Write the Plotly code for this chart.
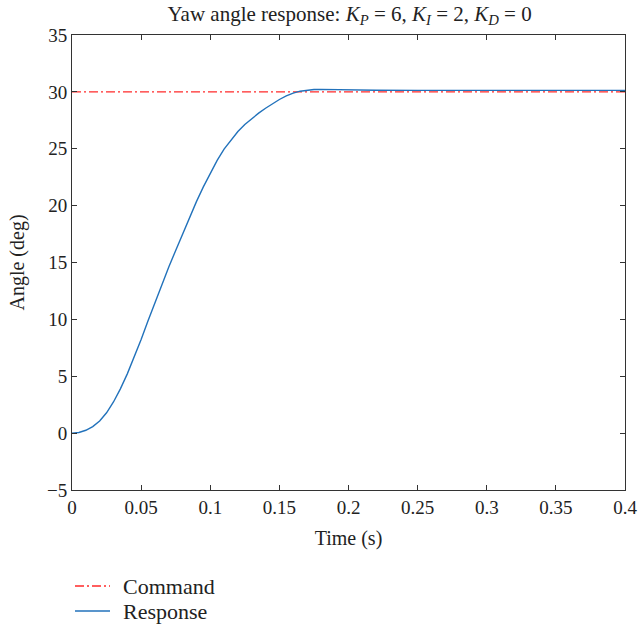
import plotly.graph_objects as go

t = [0, 0.005, 0.01, 0.015, 0.02, 0.025, 0.03, 0.035, 0.04, 0.045, 0.05, 0.055, 0.06,
     0.065, 0.07, 0.075, 0.08, 0.085, 0.09, 0.095, 0.1, 0.105, 0.11, 0.115, 0.12, 0.125,
     0.13, 0.135, 0.14, 0.145, 0.15, 0.155, 0.16, 0.165, 0.17, 0.175, 0.18, 0.185, 0.19,
     0.2, 0.22, 0.25, 0.3, 0.35, 0.4]
response = [0, 0.06, 0.25, 0.57, 1.07, 1.79, 2.74, 3.89, 5.21, 6.67, 8.24, 9.87, 11.50,
            13.08, 14.60, 16.06, 17.50, 18.98, 20.35, 21.65, 22.87, 23.98, 24.97, 25.80, 26.52, 27.14,
            27.67, 28.13, 28.56, 28.97, 29.33, 29.64, 29.89, 30.06, 30.16, 30.21, 30.22, 30.21, 30.19,
            30.16, 30.14, 30.13, 30.13, 30.13, 30.13]
cmd_t = [0, 0.4]
command = [30, 30]
series_names = ["Command", "Response"]

font = "Liberation Serif, Times New Roman, serif"
red = "#ff2a2a"
blue = "#2272bb"
red_dash = "9px,3px,2px,3px"

fig = go.Figure()
fig.add_trace(go.Scatter(x=cmd_t, y=command, mode="lines", name=series_names[0],
                         line=dict(color=red, width=1.3, dash=red_dash)))
fig.add_trace(go.Scatter(x=t, y=response, mode="lines", name=series_names[1],
                         line=dict(color=blue, width=1.4)))

axis_common = dict(showline=True, linecolor="#333", linewidth=1, mirror="ticks",
                   ticks="inside", ticklen=5, tickcolor="#333", showgrid=False,
                   zeroline=False, automargin=False,
                   tickfont=dict(family=font, size=19, color="#222"))

# legend drawn below the plot (paper coordinates relative to the plot area)
plot_w, plot_h = 553, 455
leg_rows_y = [-(586 - 490) / plot_h, -(611 - 490) / plot_h]
leg_x0, leg_x1, leg_tx = (75 - 72) / plot_w, (110 - 72) / plot_w, (121 - 72) / plot_w
shapes = []
annotations = []
for name, yy, col, dsh in zip(series_names, leg_rows_y, [red, blue], [red_dash, "solid"]):
    shapes.append(dict(type="line", xref="paper", yref="paper", x0=leg_x0, x1=leg_x1,
                       y0=yy, y1=yy, line=dict(color=col, width=1.4, dash=dsh)))
    annotations.append(dict(text=name, xref="paper", yref="paper", x=leg_tx, y=yy,
                            xanchor="left", yanchor="middle", showarrow=False,
                            font=dict(family=font, size=22, color="#222")))

fig.update_layout(
    width=638, height=624,
    margin=dict(l=72, r=13, t=35, b=134),
    plot_bgcolor="white", paper_bgcolor="white",
    font=dict(family=font, size=19, color="#222"),
    title=dict(text="Yaw angle response: <i>K</i><sub><i>P</i></sub> = 6, <i>K</i><sub><i>I</i></sub> = 2, <i>K</i><sub><i>D</i></sub> = 0",
               x=0.548, xanchor="center", xref="container",
               y=0.978, yanchor="middle", yref="container",
               font=dict(family=font, size=21, color="#222")),
    xaxis=dict(range=[0, 0.4], tickvals=[0, 0.05, 0.1, 0.15, 0.2, 0.25, 0.3, 0.35, 0.4],
               ticktext=["0", "0.05", "0.1", "0.15", "0.2", "0.25", "0.3", "0.35", "0.4"],
               title=dict(text="Time (s)", font=dict(family=font, size=20), standoff=14),
               **axis_common),
    yaxis=dict(range=[-5, 35], tickvals=[-5, 0, 5, 10, 15, 20, 25, 30, 35],
               title=dict(text="Angle (deg)", font=dict(family=font, size=20), standoff=16),
               **axis_common),
    shapes=shapes,
    annotations=annotations,
    showlegend=False,
)

fig.write_html("out.html", config={"displayModeBar": False},
               post_script="document.body.style.margin='0';")
